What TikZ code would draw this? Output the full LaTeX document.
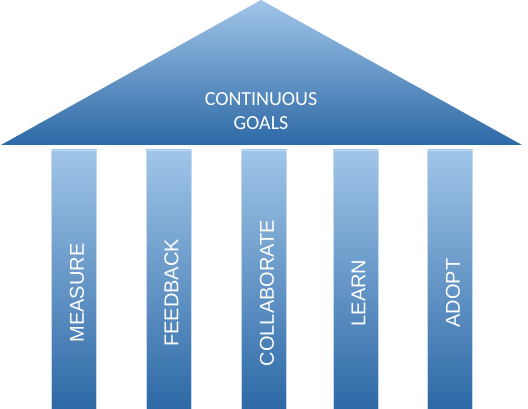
\documentclass[tikz,border=0pt]{standalone}
\usepackage{fontspec}
\setmainfont{Carlito}
\newfontfamily\pillarfont{Liberation Sans}
\usepackage{tikz}
\usetikzlibrary{positioning,calc}
\definecolor{roofLight}{RGB}{160,197,232}
\definecolor{roofMid}{RGB}{95,156,214}
\definecolor{roofDark}{RGB}{45,105,166}
\definecolor{pillarEdge}{RGB}{196,218,240}

\begin{document}
\begin{tikzpicture}[
    x=1pt, y=1pt,
    % --- styles ---
    roof/.style={
      top color=roofLight, middle color=roofMid, bottom color=roofDark},
    pillar/.style={
      rectangle, draw=pillarEdge, line width=0.6pt,
      top color=roofLight, middle color=roofMid, bottom color=roofDark,
      minimum width=45pt, minimum height=259pt, inner sep=0pt},
    rooftext/.style={
      text=white, align=center, font=\fontsize{20}{24}\selectfont},
    pillartext/.style={
      text=white, rotate=90, inner sep=0pt,
      font=\pillarfont\fontsize{20}{24}\selectfont},
  ]
  \useasboundingbox (0,0) rectangle (528,409);

  % ============== ROOF ==============
  \coordinate (apex)  at (261,409);
  \coordinate (eaveL) at (1,264);
  \coordinate (eaveR) at (522,264);
  \shade[roof] (eaveL) -- (apex) -- (eaveR) -- cycle;
  \node[rooftext] (goals) at (261,298) {CONTINUOUS\\GOALS};

  % ============== PILLARS ==============
  \node[pillar] (measure)     at (74,129.5)  {};
  \node[pillar] (feedback)    at (168.5,129.5) {};
  \node[pillar] (collaborate) at (264,129.5) {};
  \node[pillar] (learn)       at (355.5,129.5) {};
  \node[pillar] (adopt)       at (450,129.5) {};

  % ============== PILLAR LABELS ==============
  \node[pillartext] at ([xshift=3pt,yshift=-13.5pt]measure.center)     {MEASURE};
  \node[pillartext] at ([xshift=3pt,yshift=-13.5pt]feedback.center)    {FEEDBACK};
  \node[pillartext] at ([xshift=3pt,yshift=-13.5pt]collaborate.center) {COLLABORATE};
  \node[pillartext] at ([xshift=3pt,yshift=-13.5pt]learn.center)       {LEARN};
  \node[pillartext] at ([xshift=3pt,yshift=-13.5pt]adopt.center)       {ADOPT};

\end{tikzpicture}
\end{document}
